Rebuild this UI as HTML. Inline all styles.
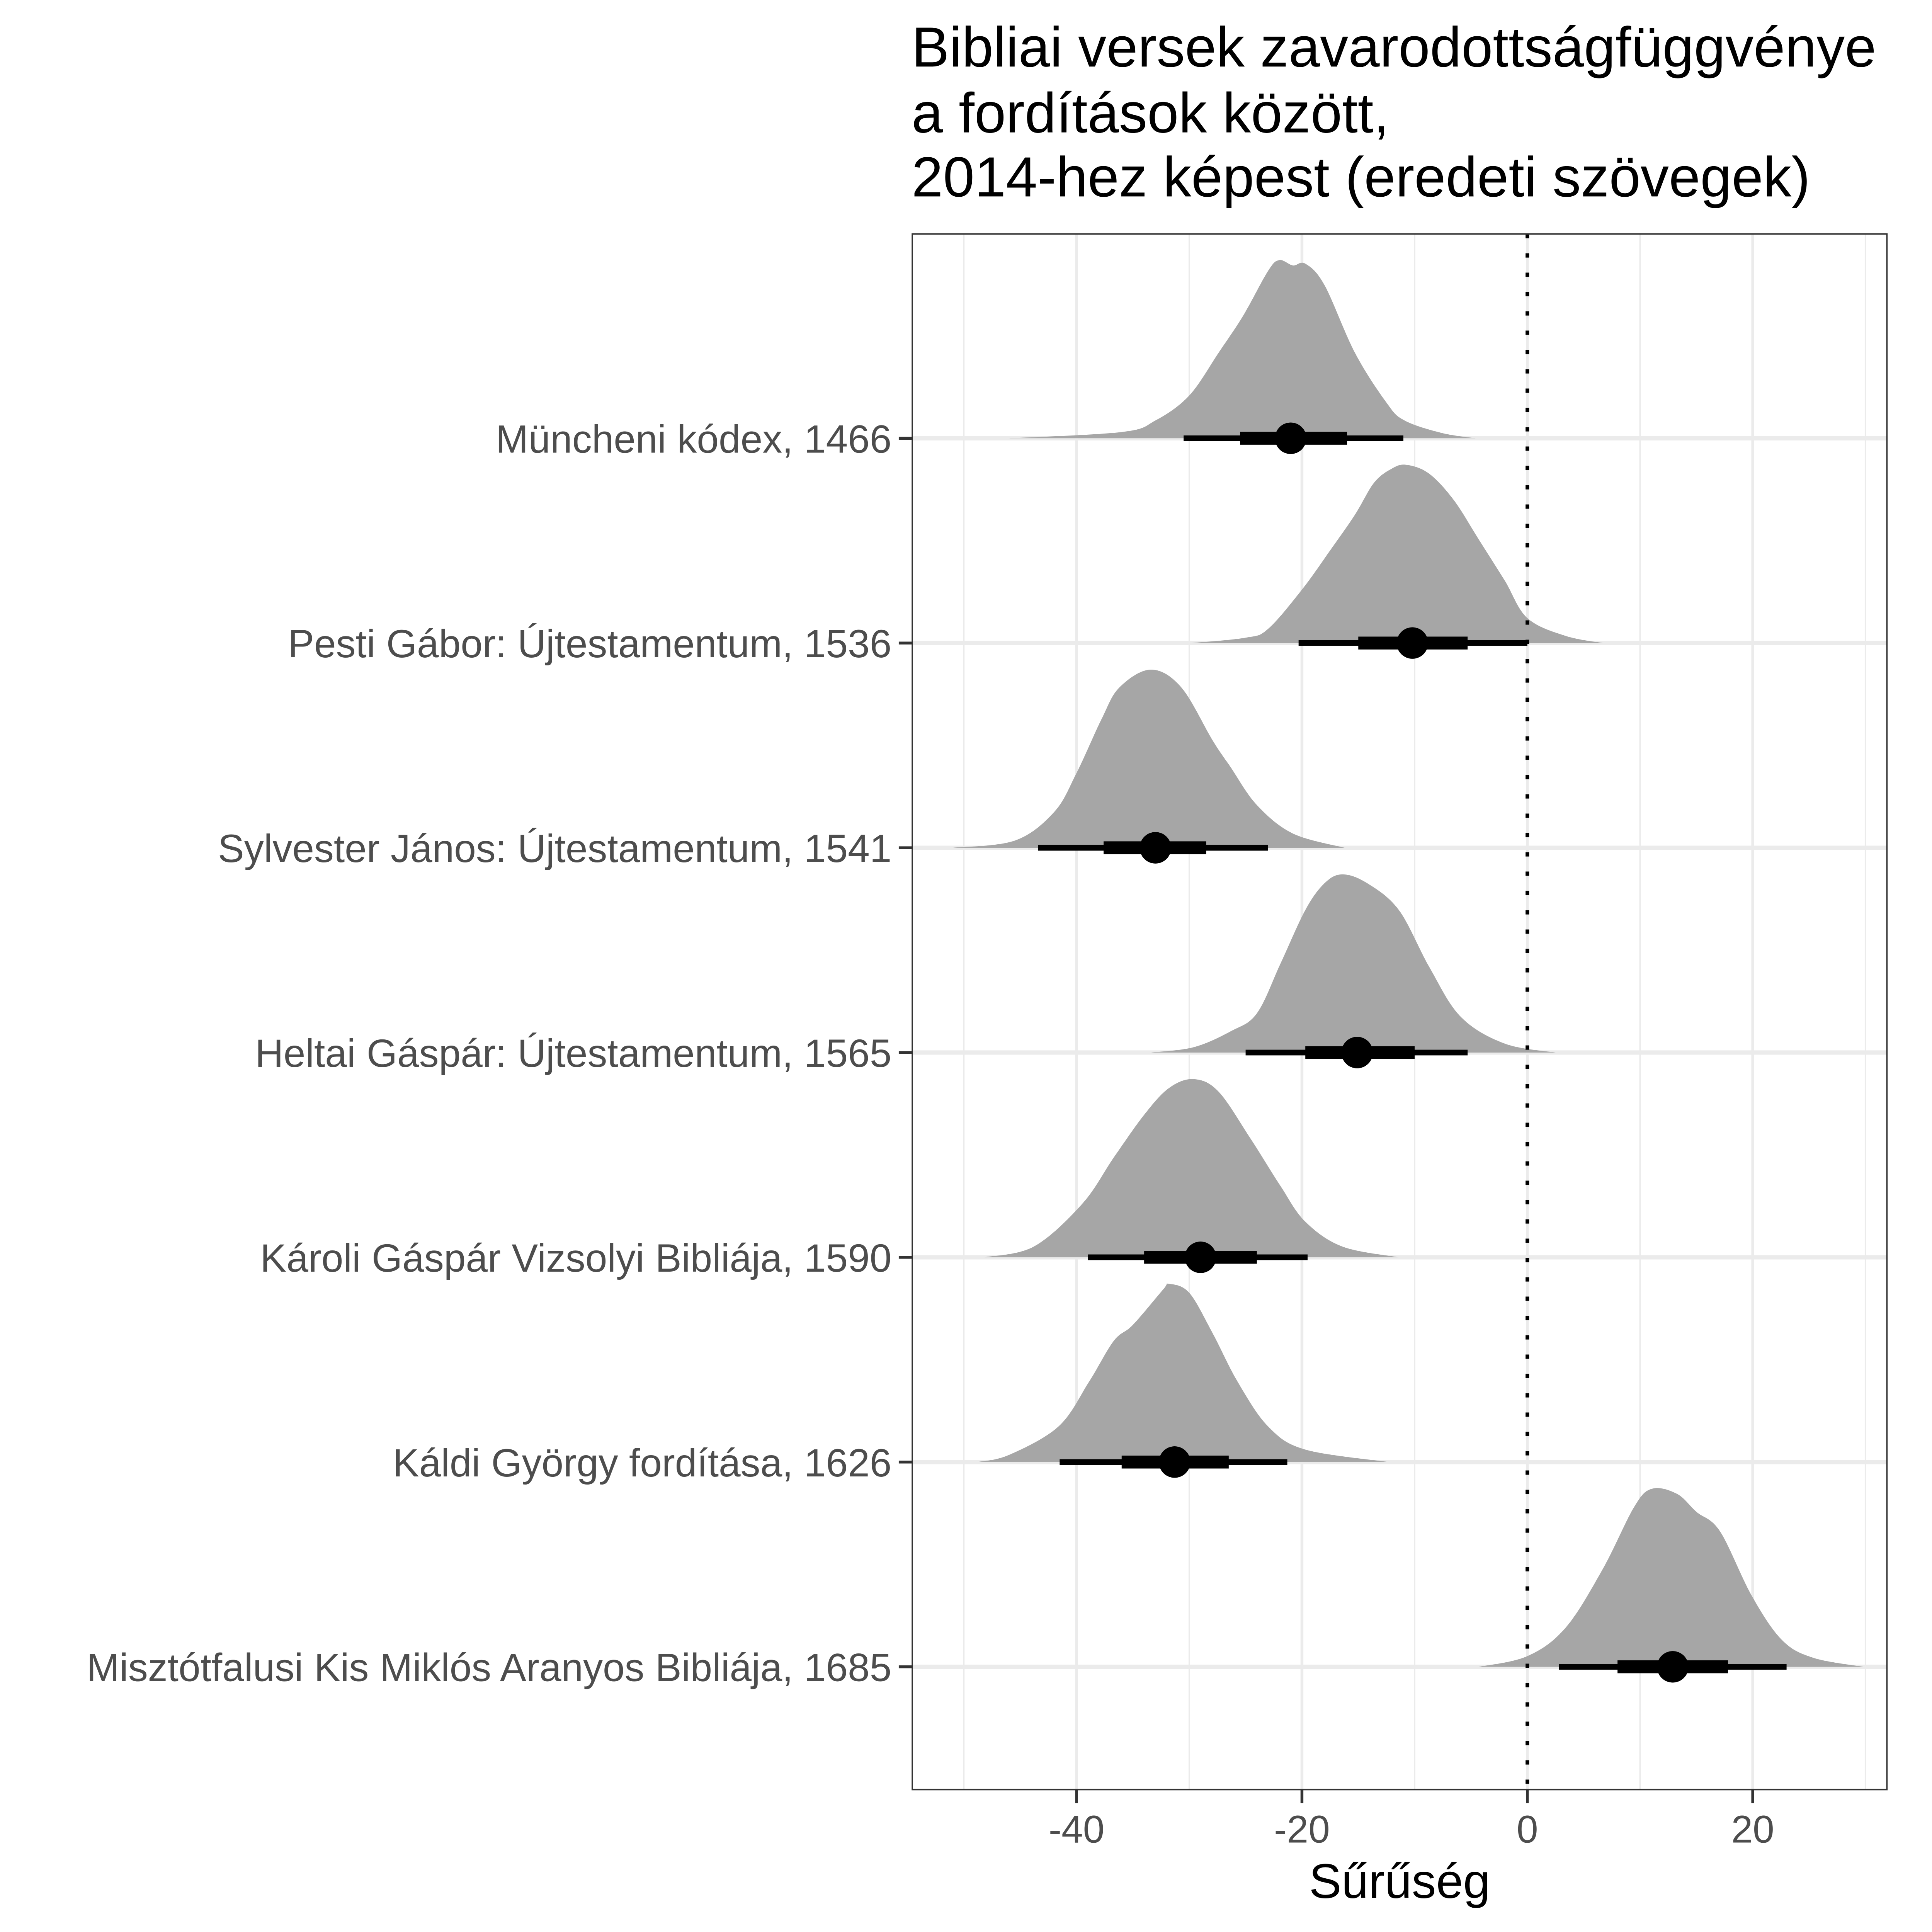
<!DOCTYPE html>
<html><head><meta charset="utf-8">
<meta name="viewport" content="width=device-width, initial-scale=1">
<style>
html,body{margin:0;padding:0;background:#fff;overflow:hidden;width:100vw;height:100vh;}
svg{display:block;width:100vw;height:100vh;font-family:"Liberation Sans",Arial,sans-serif;}
</style></head>
<body>
<svg id="chart" viewBox="0 0 5400 5400" preserveAspectRatio="xMidYMid meet" xmlns="http://www.w3.org/2000/svg">
<rect x="0" y="0" width="5400" height="5400" fill="#fff"/>
<g font-size="158" fill="#000">
<text x="2548" y="186">Bibliai versek zavarodottságfüggvénye</text>
<text x="2548" y="370">a fordítások között,</text>
<text x="2548" y="549">2014-hez képest (eredeti szövegek)</text>
</g>
<g id="grid"></g>
<g id="marks"></g>
<rect x="2550" y="654" width="2724" height="4348" fill="none" stroke="#333" stroke-width="4"/>
<g id="axes"></g>
<text x="3912" y="5305" font-size="136" text-anchor="middle" fill="#000">Sűrűség</text>
</svg>
<script>
const categories = ["Müncheni kódex, 1466","Pesti Gábor: Újtestamentum, 1536","Sylvester János: Újtestamentum, 1541","Heltai Gáspár: Újtestamentum, 1565","Károli Gáspár Vizsolyi Bibliája, 1590","Káldi György fordítása, 1626","Misztótfalusi Kis Miklós Aranyos Bibliája, 1685"];
const pointValues = [-21, -10.2, -33, -15.1, -29, -31.3, 12.9];
const thickLow = [-25.5, -15, -37.6, -19.7, -34, -36, 8.0];
const thickHigh = [-16, -5.3, -28.5, -10, -24, -26.5, 17.8];
const thinLow = [-30.5, -20.3, -43.4, -25, -39, -41.5, 2.8];
const thinHigh = [-11, 0, -23, -5.3, -19.5, -21.3, 23];
const densX = [
 [-46,-36,-33,-30,-27.4,-25.2,-23,-22,-20.8,-19.7,-18,-15.3,-12.5,-10.9,-7.6,-4.6],
 [-29.8,-25,-23,-20,-17.5,-15.3,-13.6,-12,-10.7,-8.7,-6.5,-4.3,-2,0,3.4,6.7],
 [-51,-45.5,-42,-40,-37.8,-36.2,-33.4,-30.7,-27.9,-26.3,-24,-20.8,-16.2],
 [-33.4,-29.6,-26.3,-24,-21.9,-19.7,-18,-16.4,-14.2,-11.4,-8.7,-5.9,-2,2.5],
 [-48.2,-43.8,-39.5,-36.7,-34,-31.8,-29.6,-27.4,-24.6,-21.9,-19.7,-16.4,-11.4],
 [-48.8,-46,-41.6,-38.9,-36.7,-35,-32.3,-31.8,-30,-27.9,-25.7,-23,-19.7,-12.3],
 [-4.3,0,3.4,6.7,9.5,11.1,13.3,15,17.1,19.9,22.6,25.4,29.8]
];
const densY = [
 [0,0.035,0.1,0.24,0.48,0.69,0.94,1,0.97,0.98,0.86,0.48,0.2,0.1,0.03,0],
 [0,0.03,0.08,0.3,0.52,0.72,0.9,0.98,1,0.95,0.8,0.58,0.35,0.14,0.04,0],
 [0,0.04,0.2,0.42,0.72,0.9,1,0.9,0.6,0.45,0.24,0.08,0],
 [0,0.03,0.12,0.22,0.5,0.8,0.95,1,0.95,0.8,0.48,0.2,0.05,0],
 [0,0.06,0.3,0.56,0.8,0.95,1,0.93,0.67,0.4,0.2,0.06,0],
 [0,0.04,0.2,0.45,0.68,0.77,0.97,1,0.95,0.72,0.45,0.2,0.07,0],
 [0,0.06,0.22,0.55,0.9,1,0.97,0.87,0.76,0.4,0.15,0.05,0]
];
const xTicks = [-40,-20,0,20];
const xMinor = [-50,-30,-10,10,30];
const xTickLabels = ["-40","-20","0","20"];

const NS = "http://www.w3.org/2000/svg";
const X0 = 4269, PXU = 31.5;
function xs(v){ return X0 + v*PXU; }
const ROW0 = 1225, ROWSTEP = 572.3, RIDGE_H = 498;
function ys(i){ return ROW0 + i*ROWSTEP; }
const PT = 654, PB = 5002, PL = 2550, PR = 5274;
function mk(tag, attrs, parent){
  const e = document.createElementNS(NS, tag);
  for (const k in attrs) e.setAttribute(k, attrs[k]);
  parent.appendChild(e); return e;
}
const grid = document.getElementById('grid');
const marks = document.getElementById('marks');
const axes = document.getElementById('axes');

xMinor.forEach(v => {
  const l = mk('line', {x1: xs(v), x2: xs(v), y1: PT, y2: PB, stroke: '#ebebeb', 'stroke-width': 4}, grid);
  
  
});
xTicks.forEach(v => {
  const l = mk('line', {x1: xs(v), x2: xs(v), y1: PT, y2: PB, stroke: '#ebebeb', 'stroke-width': 8}, grid);
  
  
});
categories.forEach((c, i) => {
  const l = mk('line', {x1: PL, x2: PR, y1: ys(i), y2: ys(i), stroke: '#ebebeb', 'stroke-width': 12}, grid);
  
  
});

function smoothPath(pts){
  let d = 'M' + pts[0][0].toFixed(1) + ',' + pts[0][1].toFixed(1);
  for (let k = 0; k < pts.length - 1; k++) {
    const p0 = pts[Math.max(k-1,0)], p1 = pts[k], p2 = pts[k+1], p3 = pts[Math.min(k+2, pts.length-1)];
    const c1x = p1[0] + (p2[0]-p0[0])/6, c1y = p1[1] + (p2[1]-p0[1])/6;
    const c2x = p2[0] - (p3[0]-p1[0])/6, c2y = p2[1] - (p3[1]-p1[1])/6;
    d += ' C' + c1x.toFixed(1) + ',' + c1y.toFixed(1) + ' ' + c2x.toFixed(1) + ',' + c2y.toFixed(1) + ' ' + p2[0].toFixed(1) + ',' + p2[1].toFixed(1);
  }
  return d;
}

categories.forEach((c, i) => {
  const base = ys(i);
  const pts = densX[i].map((v, j) => [xs(v), base - densY[i][j]*RIDGE_H]);
  const d = smoothPath(pts) + ' Z';
  const p = mk('path', {d: d, fill: '#a6a6a6'}, marks);
  
  
});

const zl = mk('line', {x1: xs(0), x2: xs(0), y1: PT, y2: PB, stroke: '#000', 'stroke-width': 10, 'stroke-dasharray': '12 42'}, marks);



categories.forEach((c, i) => {
  const y = ys(i);
  const t1 = mk('line', {x1: xs(thinLow[i]), x2: xs(thinHigh[i]), y1: y, y2: y, stroke: '#000', 'stroke-width': 16}, marks);
  
  
  const t2 = mk('line', {x1: xs(thickLow[i]), x2: xs(thickHigh[i]), y1: y, y2: y, stroke: '#000', 'stroke-width': 36}, marks);
  
  
  const pt = mk('circle', {cx: xs(pointValues[i]), cy: y, r: 44, fill: '#000'}, marks);
  
  
});

categories.forEach((c, i) => {
  const y = ys(i);
  const tk = mk('line', {x1: PL-38, x2: PL, y1: y, y2: y, stroke: '#333', 'stroke-width': 8}, axes);
  
  
  const t = mk('text', {x: PL-58, y: y+40, 'text-anchor': 'end', 'font-size': 110, fill: '#4d4d4d'}, axes);
  t.textContent = c;
  
  
});
xTicks.forEach((v, i) => {
  const tk = mk('line', {x1: xs(v), x2: xs(v), y1: PB, y2: PB+38, stroke: '#333', 'stroke-width': 8}, axes);
  
  
  const t = mk('text', {x: xs(v), y: 5150, 'text-anchor': 'middle', 'font-size': 108, fill: '#4d4d4d'}, axes);
  t.textContent = xTickLabels[i];
  
  
});
</script>
</body></html>
